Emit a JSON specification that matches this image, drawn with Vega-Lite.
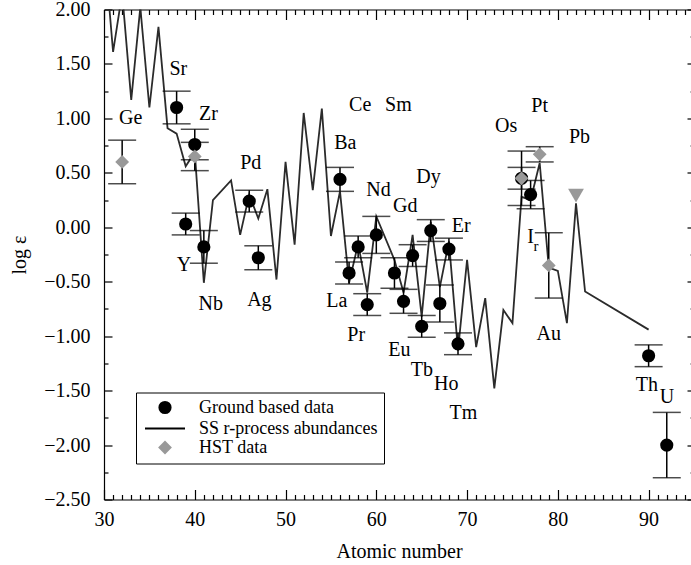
{
  "$schema": "https://vega.github.io/schema/vega-lite/v6.json",
  "width": 590,
  "height": 490,
  "autosize": {"type": "none"},
  "padding": {"left": 104, "top": 9.5, "right": 0, "bottom": 65.5},
  "background": "white",
  "config": {
    "view": {"stroke": null},
    "font": "Liberation Serif",
    "axis": {
      "grid": false,
      "domainColor": "black",
      "domainWidth": 1.2,
      "tickColor": "black",
      "tickWidth": 1.2,
      "labelFont": "Liberation Serif",
      "labelFontSize": 20,
      "labelColor": "black",
      "titleFont": "Liberation Serif",
      "titleFontSize": 20,
      "titleFontWeight": "normal",
      "titleColor": "black",
      "labelOverlap": false,
      "labelFlush": false
    },
    "legend": {
      "orient": "none",
      "legendX": 32,
      "legendY": 383,
      "strokeColor": "black",
      "padding": 6,
      "labelFont": "Liberation Serif",
      "labelFontSize": 18,
      "labelColor": "black",
      "labelOffset": 23,
      "labelLimit": 400,
      "symbolOffset": 12,
      "rowPadding": 0,
      "symbolStrokeWidth": 2
    }
  },
  "datasets": {
    "ss": [
      {"Z": 30, "v": 2.6}, {"Z": 31, "v": 1.61}, {"Z": 32, "v": 2.15}, {"Z": 33, "v": 1.17},
      {"Z": 34, "v": 2.02}, {"Z": 35, "v": 1.10}, {"Z": 36, "v": 1.84}, {"Z": 37, "v": 0.91},
      {"Z": 38, "v": 0.86}, {"Z": 39, "v": 0.56}, {"Z": 40, "v": 0.69}, {"Z": 41, "v": -0.51},
      {"Z": 42, "v": 0.25}, {"Z": 44, "v": 0.43}, {"Z": 45, "v": -0.07}, {"Z": 46, "v": 0.30},
      {"Z": 47, "v": 0.08}, {"Z": 48, "v": 0.35}, {"Z": 49, "v": -0.48}, {"Z": 50, "v": 0.60},
      {"Z": 51, "v": -0.16}, {"Z": 52, "v": 1.05}, {"Z": 53, "v": 0.34}, {"Z": 54, "v": 1.09},
      {"Z": 55, "v": -0.08}, {"Z": 56, "v": 0.33}, {"Z": 57, "v": -0.51}, {"Z": 58, "v": -0.15},
      {"Z": 59, "v": -0.60}, {"Z": 60, "v": 0.10}, {"Z": 62, "v": -0.30}, {"Z": 63, "v": -0.60},
      {"Z": 64, "v": -0.07}, {"Z": 65, "v": -0.82}, {"Z": 66, "v": 0.05}, {"Z": 67, "v": -0.55},
      {"Z": 68, "v": -0.13}, {"Z": 69, "v": -1.13}, {"Z": 70, "v": -0.30}, {"Z": 71, "v": -1.10},
      {"Z": 72, "v": -0.65}, {"Z": 73, "v": -1.48}, {"Z": 74, "v": -0.76}, {"Z": 75, "v": -0.88},
      {"Z": 76, "v": 0.28}, {"Z": 77, "v": 0.25}, {"Z": 78, "v": 0.59}, {"Z": 79, "v": -0.37},
      {"Z": 80, "v": -0.40}, {"Z": 81, "v": -0.88}, {"Z": 82, "v": 0.22}, {"Z": 83, "v": -0.59},
      {"Z": 90, "v": -0.94}
    ],
    "obs": [
      {"el": "Sr", "Z": 38, "v": 1.10, "err": 0.15, "series": "Ground based data"},
      {"el": "Y", "Z": 39, "v": 0.03, "err": 0.10, "series": "Ground based data"},
      {"el": "Zr", "Z": 40, "v": 0.76, "err": 0.14, "series": "Ground based data"},
      {"el": "Nb", "Z": 41, "v": -0.18, "err": 0.15, "series": "Ground based data"},
      {"el": "Pd", "Z": 46, "v": 0.24, "err": 0.10, "series": "Ground based data"},
      {"el": "Ag", "Z": 47, "v": -0.28, "err": 0.11, "series": "Ground based data"},
      {"el": "Ba", "Z": 56, "v": 0.44, "err": 0.11, "series": "Ground based data"},
      {"el": "La", "Z": 57, "v": -0.42, "err": 0.10, "series": "Ground based data"},
      {"el": "Ce", "Z": 58, "v": -0.18, "err": 0.10, "series": "Ground based data"},
      {"el": "Pr", "Z": 59, "v": -0.71, "err": 0.10, "series": "Ground based data"},
      {"el": "Nd", "Z": 60, "v": -0.07, "err": 0.17, "series": "Ground based data"},
      {"el": "Sm", "Z": 62, "v": -0.42, "err": 0.14, "series": "Ground based data"},
      {"el": "Eu", "Z": 63, "v": -0.68, "err": 0.11, "series": "Ground based data"},
      {"el": "Gd", "Z": 64, "v": -0.26, "err": 0.10, "series": "Ground based data"},
      {"el": "Tb", "Z": 65, "v": -0.91, "err": 0.10, "series": "Ground based data"},
      {"el": "Dy", "Z": 66, "v": -0.03, "err": 0.10, "series": "Ground based data"},
      {"el": "Ho", "Z": 67, "v": -0.70, "err": 0.17, "series": "Ground based data"},
      {"el": "Er", "Z": 68, "v": -0.20, "err": 0.10, "series": "Ground based data"},
      {"el": "Tm", "Z": 69, "v": -1.07, "err": 0.10, "series": "Ground based data"},
      {"el": "Os", "Z": 76, "v": 0.45, "err": 0.25, "series": "Ground based data"},
      {"el": "Ir", "Z": 77, "v": 0.30, "err": 0.13, "series": "Ground based data"},
      {"el": "Th", "Z": 90, "v": -1.18, "err": 0.10, "series": "Ground based data"},
      {"el": "U", "Z": 92, "v": -2.00, "err": 0.30, "series": "Ground based data"},
      {"el": "Ge", "Z": 32, "v": 0.60, "err": 0.20, "series": "HST data"},
      {"el": "Zr", "Z": 40, "v": 0.65, "err": 0.13, "series": "HST data"},
      {"el": "Os", "Z": 76, "v": 0.45, "err": 0.10, "series": "HST data"},
      {"el": "Pt", "Z": 78, "v": 0.67, "err": 0.07, "series": "HST data"},
      {"el": "Au", "Z": 79, "v": -0.35, "err": 0.30, "series": "HST data"}
    ],
    "limits": [
      {"el": "Pb", "Z": 82, "v": 0.29}
    ],
    "names": [
      {"t": "Ge", "Z": 32.94, "v": 1.00},
      {"t": "Sr", "Z": 38.19, "v": 1.45},
      {"t": "Zr", "Z": 41.5, "v": 1.04},
      {"t": "Y", "Z": 38.82, "v": -0.35},
      {"t": "Nb", "Z": 41.76, "v": -0.70},
      {"t": "Pd", "Z": 46.17, "v": 0.59},
      {"t": "Ag", "Z": 47.12, "v": -0.67},
      {"t": "Ce", "Z": 58.22, "v": 1.12},
      {"t": "Sm", "Z": 62.44, "v": 1.12},
      {"t": "Ba", "Z": 56.58, "v": 0.77},
      {"t": "La", "Z": 55.65, "v": -0.68},
      {"t": "Nd", "Z": 60.24, "v": 0.34},
      {"t": "Pr", "Z": 57.78, "v": -0.99},
      {"t": "Gd", "Z": 63.18, "v": 0.20},
      {"t": "Dy", "Z": 65.75, "v": 0.46},
      {"t": "Eu", "Z": 62.55, "v": -1.13},
      {"t": "Er", "Z": 69.35, "v": 0.01},
      {"t": "Tb", "Z": 65.02, "v": -1.31},
      {"t": "Ho", "Z": 67.7, "v": -1.44},
      {"t": "Tm", "Z": 69.6, "v": -1.71},
      {"t": "Os", "Z": 74.3, "v": 0.93},
      {"t": "Pt", "Z": 77.99, "v": 1.11},
      {"t": "Pb", "Z": 82.39, "v": 0.83},
      {"t": "I", "Z": 77.0, "v": -0.09},
      {"t": "Au", "Z": 79.0, "v": -0.98},
      {"t": "Th", "Z": 89.82, "v": -1.45},
      {"t": "U", "Z": 92.02, "v": -1.56}
    ],
    "subs": [
      {"t": "r", "Z": 77.6, "v": -0.17}
    ]
  },
  "layer": [
    {
      "data": {"name": "ss"},
      "mark": {"type": "line", "color": "#2b2b2b", "strokeWidth": 1.8, "clip": true},
      "encoding": {
        "x": {
          "field": "Z", "type": "quantitative",
          "scale": {"domain": [30, 95], "nice": false, "zero": false},
          "axis": {
            "orient": "bottom",
            "title": "Atomic number",
            "titlePadding": 12,
            "values": [30, 40, 50, 60, 70, 80, 90],
            "format": "d",
            "tickSize": -10,
            "labelPadding": 20
          }
        },
        "y": {
          "field": "v", "type": "quantitative",
          "scale": {"domain": [-2.5, 2.0], "nice": false, "zero": false},
          "axis": {
            "orient": "left",
            "title": "log ε",
            "titlePadding": 14,
            "values": [-2.5, -2, -1.5, -1, -0.5, 0, 0.5, 1, 1.5, 2],
            "format": ".2f",
            "tickSize": -8,
            "labelPadding": 22
          }
        }
      }
    },
    {
      "data": {"name": "obs"},
      "mark": {"type": "errorbar", "color": "black", "thickness": 1.5, "ticks": {"size": 28, "thickness": 1.5, "color": "black"}},
      "encoding": {
        "x": {"field": "Z", "type": "quantitative", "axis": null},
        "y": {"field": "v", "type": "quantitative", "axis": null},
        "yError": {"field": "err"}
      }
    },
    {
      "data": {"name": "obs"},
      "mark": {"type": "point", "filled": true, "opacity": 1, "strokeWidth": 2},
      "encoding": {
        "x": {
          "field": "Z", "type": "quantitative",
          "axis": {
            "orient": "bottom", "title": null, "labels": false, "domain": false,
            "values": [31,32,33,34,35,36,37,38,39,41,42,43,44,45,46,47,48,49,51,52,53,54,55,56,57,58,59,61,62,63,64,65,66,67,68,69,71,72,73,74,75,76,77,78,79,81,82,83,84,85,86,87,88,89,91,92,93,94],
            "tickSize": -5
          }
        },
        "y": {
          "field": "v", "type": "quantitative",
          "axis": {
            "orient": "left", "title": null, "labels": false, "domain": false,
            "values": [-2.25, -1.75, -1.25, -0.75, -0.25, 0.25, 0.75, 1.25, 1.75],
            "tickSize": -4
          }
        },
        "color": {
          "field": "series", "type": "nominal",
          "scale": {"domain": ["Ground based data", "SS r-process abundances", "HST data"], "range": ["black", "black", "#999999"]},
          "legend": {"title": null, "labelExpr": "datum.label + '\u00a0\u00a0\u00a0\u00a0'"}
        },
        "stroke": {
          "field": "series", "type": "nominal",
          "scale": {"domain": ["Ground based data", "SS r-process abundances", "HST data"], "range": ["black", "black", "#999999"]},
          "legend": {"title": null, "labelExpr": "datum.label + '\u00a0\u00a0\u00a0\u00a0'"}
        },
        "shape": {
          "field": "series", "type": "nominal",
          "scale": {"domain": ["Ground based data", "SS r-process abundances", "HST data"], "range": ["circle", "M-2,0H2", "diamond"]},
          "legend": {"title": null, "labelExpr": "datum.label + '\u00a0\u00a0\u00a0\u00a0'"}
        },
        "size": {
          "field": "series", "type": "nominal",
          "scale": {"type": "ordinal", "domain": ["Ground based data", "SS r-process abundances", "HST data"], "range": [125, 400, 120]},
          "legend": {"title": null, "labelExpr": "datum.label + '\u00a0\u00a0\u00a0\u00a0'"}
        }
      }
    },
    {
      "data": {"name": "limits"},
      "mark": {"type": "point", "shape": "triangle-down", "filled": true, "opacity": 1, "color": "#999999", "size": 250},
      "encoding": {
        "x": {
          "field": "Z", "type": "quantitative",
          "axis": {
            "orient": "top", "title": null, "labels": false,
            "values": [30, 40, 50, 60, 70, 80, 90],
            "tickSize": -10
          }
        },
        "y": {
          "field": "v", "type": "quantitative",
          "axis": {
            "orient": "right", "title": null, "labels": false,
            "values": [-2.5, -2, -1.5, -1, -0.5, 0, 0.5, 1, 1.5, 2],
            "tickSize": -7
          }
        }
      }
    },
    {
      "data": {"name": "names"},
      "mark": {"type": "text", "font": "Liberation Serif", "fontSize": 20, "color": "black", "align": "center", "baseline": "middle"},
      "encoding": {
        "x": {
          "field": "Z", "type": "quantitative",
          "axis": {
            "orient": "top", "title": null, "labels": false, "domain": false,
            "values": [31,32,33,34,35,36,37,38,39,41,42,43,44,45,46,47,48,49,51,52,53,54,55,56,57,58,59,61,62,63,64,65,66,67,68,69,71,72,73,74,75,76,77,78,79,81,82,83,84,85,86,87,88,89,91,92,93,94],
            "tickSize": -5
          }
        },
        "y": {
          "field": "v", "type": "quantitative",
          "axis": {
            "orient": "right", "title": null, "labels": false, "domain": false,
            "values": [-2.25, -1.75, -1.25, -0.75, -0.25, 0.25, 0.75, 1.25, 1.75],
            "tickSize": -4
          }
        },
        "text": {"field": "t"}
      }
    },
    {
      "data": {"name": "subs"},
      "mark": {"type": "text", "font": "Liberation Serif", "fontSize": 15, "color": "black", "align": "center", "baseline": "middle"},
      "encoding": {
        "x": {"field": "Z", "type": "quantitative", "axis": null},
        "y": {"field": "v", "type": "quantitative", "axis": null},
        "text": {"field": "t"}
      }
    }
  ],
  "resolve": {"axis": {"x": "independent", "y": "independent"}}
}
